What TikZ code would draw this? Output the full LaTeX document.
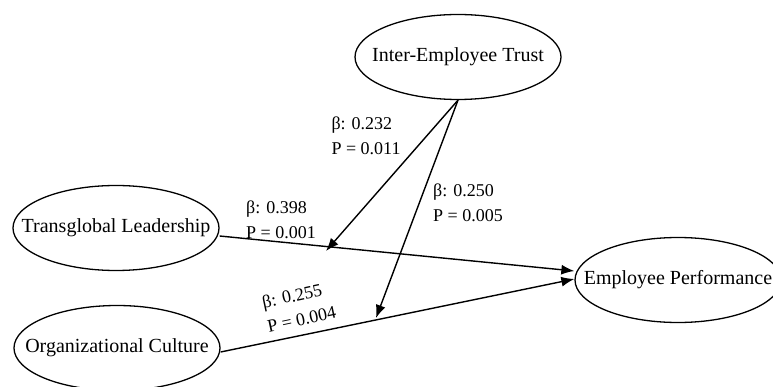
\documentclass[tikz,border=0pt]{standalone}
\usepackage{fontspec}
\setmainfont{Liberation Serif}
\usetikzlibrary{shapes.geometric,arrows.meta}
\begin{document}
\begin{tikzpicture}[x=1pt,y=-1pt,
  construct/.style={draw,ellipse,line width=1.3pt,inner xsep=-26pt,inner ysep=0pt,
    minimum width=206pt,minimum height=85pt,
    font=\fontsize{20}{24}\selectfont},
  path/.style={line width=1.4pt,-{Latex[length=13pt,width=10pt]}},
  coef/.style={align=left,inner sep=0pt,font=\fontsize{18}{25}\selectfont}]
\clip (0,0) rectangle (773,387);
\fill[white] (0,0) rectangle (773,387);

% latent constructs
\node[construct] (iet) at (458,57)  {Inter-Employee Trust};
\node[construct] (tl)  at (116,228) {Transglobal Leadership};
\node[construct] (oc)  at (117,348) {Organizational Culture};
\node[construct] (ep)  at (678,280) {Employee Performance};

% points where the moderating effects meet the direct paths
\coordinate (m1) at (326,251);
\coordinate (m2) at (376,318);

% direct paths
\draw[path] ([yshift=-8pt]tl.east) -- ([yshift=9pt]ep.west);
\draw[path] ([yshift=-4pt]oc.east) -- ([yshift=1pt]ep.west);

% moderating paths
\draw[path] (iet.south) -- (m1);
\draw[path] (iet.south) -- (m2);

% path coefficients
\node[coef] (c1) at (366,136) {β: 0.232\\P = 0.011};
\node[coef] (c2) at (468,203) {β: 0.250\\P = 0.005};
\node[coef] (c3) at (281,220) {β: 0.398\\P = 0.001};
\node[coef,rotate=12] (c4) at (299,307) {β: 0.255\\P = 0.004};
\end{tikzpicture}
\end{document}
